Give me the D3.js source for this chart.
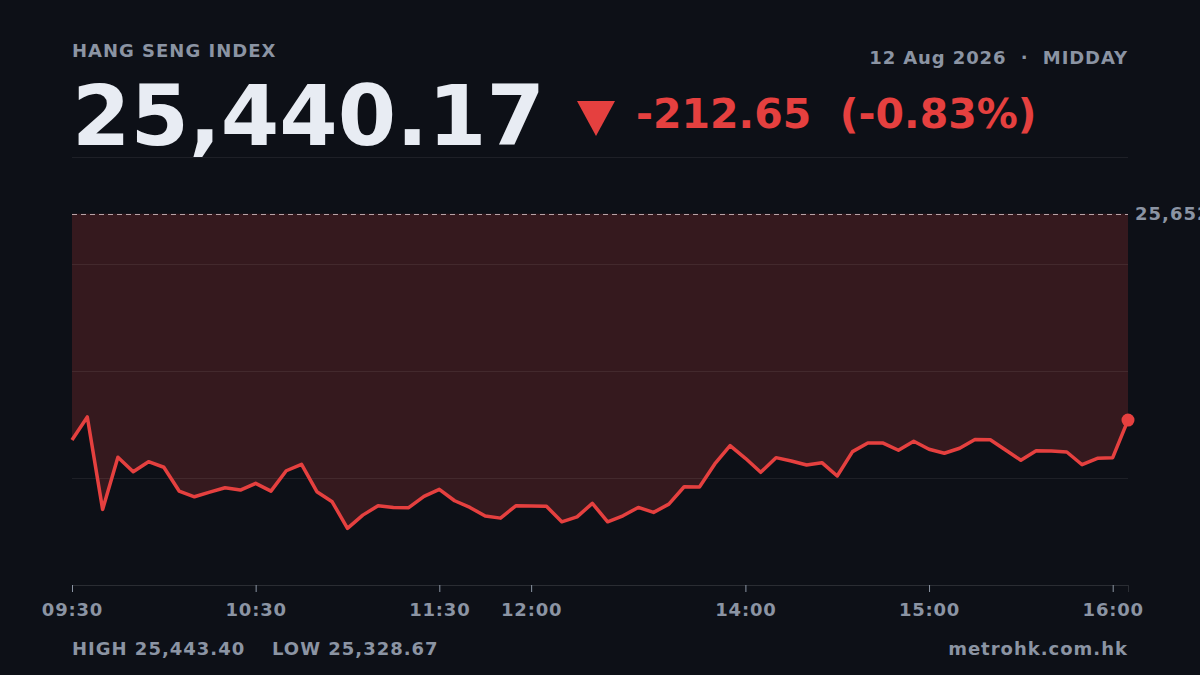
<!DOCTYPE html>
<html>
<head>
<meta charset="utf-8">
<script src="https://cdn.jsdelivr.net/npm/d3@7"></script>
<style>
  html, body { margin: 0; padding: 0; background: #0d1017; overflow: hidden; }
  svg { display: block; }
  text { font-family: "DejaVu Sans", sans-serif; font-weight: bold; }
</style>
</head>
<body>
<svg id="chart" width="1200" height="675"></svg>
<script>
// ---- data ----
const title = "HANG SENG INDEX";
const dateLabel = "12 Aug 2026  \u00b7  MIDDAY";
const lastValue = 25440.17;
const prevClose = 25652.82;
const change = -212.65;
const changePct = -0.83;
const dayHigh = 25443.40;
const dayLow = 25328.67;
const source = "metrohk.com.hk";

// 5-minute index levels (09:30 → close)
const values = [
  25419.7, 25443.40, 25348.2, 25401.9, 25387.0, 25397.3, 25391.6, 25367.1, 25361.2, 25366.0,
  25370.5, 25368.1, 25375.0, 25367.0, 25388.0, 25394.6, 25366.4, 25356.0, 25328.67, 25342.3,
  25351.9, 25350.2, 25350.0, 25361.6, 25368.8, 25357.1, 25350.2, 25341.3, 25339.2, 25351.9,
  25351.6, 25351.4, 25335.4, 25340.5, 25354.4, 25335.4, 25341.6, 25350.2, 25345.1, 25353.6,
  25371.5, 25371.3, 25395.0, 25413.9, 25400.8, 25386.4, 25401.5, 25398.1, 25393.9, 25396.3,
  25382.6, 25407.7, 25416.6, 25416.5, 25409.1, 25418.4, 25410.1, 25406.0, 25411.2, 25420.1,
  25420.0, 25409.4, 25398.8, 25408.7, 25408.4, 25407.3, 25394.2, 25400.8, 25401.5, 25440.17
];
const tickIndex = [0, 12, 24, 30, 44, 56, 68];
const tickLabels = ["09:30", "10:30", "11:30", "12:00", "14:00", "15:00", "16:00"];

// ---- layout ----
const svg = d3.select("#chart");
const W = 1200, H = 675;
const mLeft = 72, mRight = 1128, mTop = 157, mBottom = 585;
const red = "#e5403f", gray = "#8b94a3";
const fmt2 = v => d3.format(".2f")(v).replace("\u2212", "-");

svg.append("rect").attr("width", W).attr("height", H).attr("fill", "#0d1017");

const x = d3.scaleLinear().domain([0, values.length - 1]).range([mLeft, mRight]);
const lo = Math.min(d3.min(values), prevClose), hi = Math.max(d3.max(values), prevClose);
const pad = (hi - lo) * 0.18;
const y = d3.scaleLinear().domain([lo - pad, hi + pad]).range([mBottom, mTop]);

// header
svg.append("text").attr("x", mLeft).attr("y", 57).attr("font-size", 18)
  .attr("letter-spacing", 1).attr("fill", gray).text(title);
svg.append("text").attr("x", mRight).attr("y", 64).attr("font-size", 18)
  .attr("letter-spacing", 0.9).attr("text-anchor", "end").attr("fill", gray)
  .style("white-space", "pre").text(dateLabel);
svg.append("text").attr("x", mLeft).attr("y", 145).attr("font-size", 84)
  .attr("fill", "#e8ecf3").text(d3.format(",.2f")(lastValue));
svg.append("path").attr("d", "M577,101 L615,101 L596,136 Z").attr("fill", red);
svg.append("text").attr("x", 636).attr("y", 128).attr("font-size", 41)
  .attr("fill", red).style("white-space", "pre")
  .text(fmt2(change) + "  (" + fmt2(changePct) + "%)");

// grid (separator + quarter lines)
const gridFrac = [0, 0.25, 0.5, 0.75];
const gy = d3.scaleLinear().domain([0, 1]).range([mTop, mBottom]);

// area between line and previous close
const area = d3.area().x((d, i) => x(i)).y0(y(prevClose)).y1(d => y(d));
svg.append("path").datum(values).attr("d", area).attr("fill", "rgba(229,62,62,0.19)");

svg.selectAll("line.grid").data(gridFrac).enter().append("line")
  .attr("class", "grid").attr("x1", mLeft).attr("x2", mRight)
  .attr("y1", d => Math.round(gy(d)) + 0.5).attr("y2", d => Math.round(gy(d)) + 0.5)
  .attr("stroke", "#ffffff").attr("stroke-opacity", 0.07).attr("stroke-width", 1);

// previous close dashed line
svg.append("line").attr("x1", mLeft).attr("x2", mRight)
  .attr("y1", Math.round(y(prevClose)) + 0.5).attr("y2", Math.round(y(prevClose)) + 0.5)
  .attr("stroke", "#d9c4c8").attr("stroke-opacity", 0.8).attr("stroke-dasharray", "5,4");
svg.append("text").attr("x", 1135).attr("y", y(prevClose)).attr("dy", "0.36em")
  .attr("font-size", 18).attr("letter-spacing", 1).attr("fill", gray)
  .text(d3.format(",.2f")(prevClose));

// line
const line = d3.line().x((d, i) => x(i)).y(d => y(d));
svg.append("path").datum(values).attr("d", line).attr("fill", "none")
  .attr("stroke", red).attr("stroke-width", 3.5).attr("stroke-linejoin", "round");
svg.append("circle").attr("cx", x(values.length - 1)).attr("cy", y(values[values.length - 1]))
  .attr("r", 6.5).attr("fill", red);

// x axis
const axis = d3.axisBottom(x).tickValues(tickIndex)
  .tickFormat((d, i) => tickLabels[i]).tickSize(7).tickPadding(11);
const ax = svg.append("g").attr("transform", `translate(0,${mBottom})`).call(axis);
ax.select(".domain").attr("stroke", "#ffffff").attr("stroke-opacity", 0.12);
ax.selectAll(".tick line").attr("stroke", gray);
ax.selectAll(".tick text").attr("fill", gray).attr("font-size", 18)
  .attr("letter-spacing", 0.8).attr("font-family", "DejaVu Sans").attr("font-weight", "bold");

// footer
svg.append("text").attr("x", mLeft).attr("y", 655).attr("font-size", 18)
  .attr("letter-spacing", 1).attr("fill", gray).text("HIGH " + d3.format(",.2f")(dayHigh));
svg.append("text").attr("x", 272).attr("y", 655).attr("font-size", 18)
  .attr("letter-spacing", 1).attr("fill", gray).text("LOW " + d3.format(",.2f")(dayLow));
svg.append("text").attr("x", mRight).attr("y", 655).attr("font-size", 18)
  .attr("letter-spacing", 1).attr("text-anchor", "end").attr("fill", gray).text(source);
</script>
</body>
</html>
